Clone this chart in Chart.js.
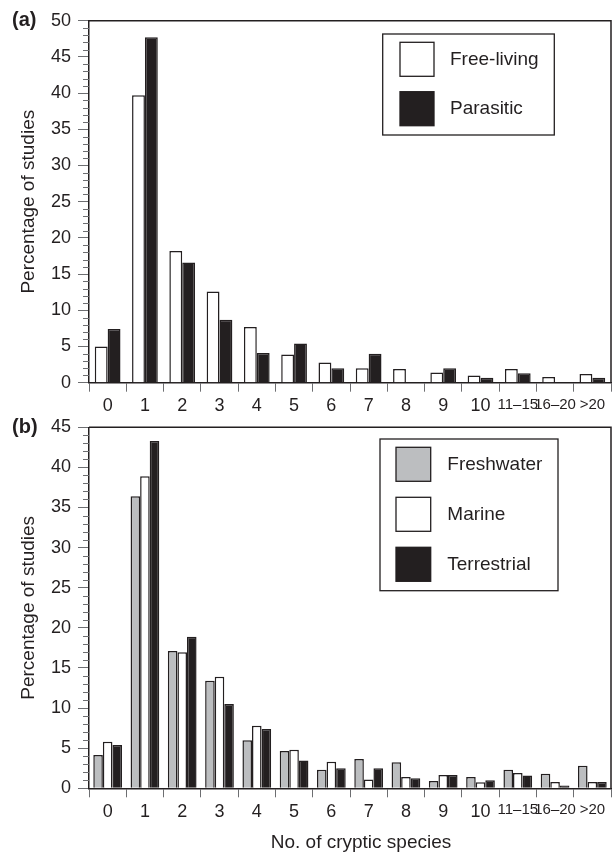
<!DOCTYPE html>
<html>
<head>
<meta charset="utf-8">
<script src="https://cdn.jsdelivr.net/npm/chart.js@4"></script>
<style>
  html, body { margin: 0; padding: 0; background: #fff; }
  #wrap { position: relative; width: 616px; height: 857px; overflow: hidden; }
  canvas { position: absolute; left: 0; }
  #chartA { top: 0; }
  #chartB { top: 400px; }
</style>
</head>
<body>
<div id="wrap">
  <canvas id="chartA" width="616" height="425"></canvas>
  <canvas id="chartB" width="616" height="457"></canvas>
</div>
<script>
// Categories (number of cryptic species)
const categories = ['0', '1', '2', '3', '4', '5', '6', '7', '8', '9', '10', '11–15', '16–20', '>20'];

// Panel (a): life style
const freeLiving = [5.0, 39.7, 18.2, 12.6, 7.7, 3.9, 2.8, 2.0, 1.9, 1.4, 1.0, 1.9, 0.8, 1.2];
const parasitic = [7.4, 47.7, 16.6, 8.7, 4.1, 5.4, 2.0, 4.0, 0, 2.0, 0.7, 1.3, 0, 0.7];

// Panel (b): habitat
const freshwater = [4.15, 36.4, 17.1, 13.4, 6.0, 4.65, 2.3, 3.65, 3.25, 0.9, 1.4, 2.3, 1.8, 2.8];
const marine = [5.8, 38.9, 16.95, 13.9, 7.8, 4.8, 3.3, 1.1, 1.4, 1.65, 0.75, 1.9, 0.8, 0.8];
const terrestrial = [5.4, 43.3, 18.9, 10.5, 7.4, 3.45, 2.5, 2.5, 1.25, 1.65, 1.0, 1.6, 0.35, 0.8];

const INK = '#231f20';
const GREY = '#bcbec0';
const TICK = '#6d6e71';
const FONT = "'Liberation Sans', Arial, Helvetica, sans-serif";

// Draws the frame, minor y ticks, panel letter, boxed legend and x title
const panelDecor = {
    id: 'panelDecor',
    beforeDatasetsDraw(chart, args, opts) {
        const { ctx, chartArea: a } = chart;
        const y = chart.scales.y;
        ctx.save();
        ctx.strokeStyle = TICK;
        ctx.lineWidth = 1;
        ctx.beginPath();
        for (let v = y.min; v <= y.max; v++) {
            if (v % 5 === 0) continue;
            const py = Math.round(y.getPixelForValue(v)) + 0.5;
            ctx.moveTo(a.left - 6, py);
            ctx.lineTo(a.left, py);
        }
        ctx.stroke();
        ctx.strokeStyle = INK;
        ctx.lineWidth = 1.5;
        ctx.beginPath();
        ctx.moveTo(a.left, a.top);
        ctx.lineTo(a.right, a.top);
        ctx.lineTo(a.right, a.bottom);
        ctx.stroke();
        ctx.restore();
    },
    afterDraw(chart, args, opts) {
        const { ctx, chartArea: a } = chart;
        ctx.save();
        ctx.fillStyle = INK;
        ctx.textBaseline = 'middle';
        ctx.font = `bold 20px ${FONT}`;
        ctx.fillText(opts.label, 12, a.top);

        // legend box
        const L = opts.legend;
        ctx.lineWidth = 1.3;
        ctx.strokeStyle = INK;
        ctx.strokeRect(L.x, L.y, L.w, L.h);
        ctx.font = `19px ${FONT}`;
        chart.data.datasets.forEach((ds, i) => {
            const sy = L.y + L.pad + i * L.step;
            ctx.fillStyle = ds.backgroundColor;
            ctx.fillRect(L.x + L.sx, sy, L.sw, 34);
            ctx.strokeRect(L.x + L.sx, sy, L.sw, 34);
            ctx.fillStyle = INK;
            ctx.fillText(ds.label, L.x + L.tx, sy + 17);
        });

        if (opts.xTitle) {
            ctx.textAlign = 'center';
            ctx.fillText(opts.xTitle, opts.xTitleX, opts.xTitleY);
        }
        ctx.restore();
    }
};

function makeChart(id, datasets, yMax, catPct, padTop, xHeight, decor) {
    return new Chart(document.getElementById(id), {
        type: 'bar',
        data: {
            labels: categories,
            datasets: datasets.map(d => ({
                label: d.label,
                data: d.data,
                backgroundColor: d.color,
                borderColor: INK,
                borderWidth: 1.5,
                categoryPercentage: catPct,
                barPercentage: 1.0
            }))
        },
        options: {
            responsive: false,
            animation: false,
            layout: { padding: { top: padTop, right: 5, left: 0, bottom: 0 } },
            plugins: {
                legend: { display: false },
                tooltip: { enabled: false },
                panelDecor: decor
            },
            scales: {
                x: {
                    ticks: {
                        color: INK,
                        font: (c) => ({ family: FONT, size: c.index > 10 ? 15 : 18 }),
                        padding: 4,
                        maxRotation: 0,
                        minRotation: 0,
                        autoSkip: false
                    },
                    grid: { offset: true, drawOnChartArea: false, tickLength: 9, tickColor: TICK },
                    border: { display: true, color: INK, width: 1.5 },
                    afterFit: (s) => { s.height = xHeight; }
                },
                y: {
                    min: 0,
                    max: yMax,
                    ticks: { stepSize: 5, color: INK, font: { family: FONT, size: 18 }, padding: 7 },
                    grid: { drawOnChartArea: false, tickLength: 11, tickColor: TICK },
                    border: { display: true, color: INK, width: 1.5 },
                    title: {
                        display: true,
                        text: 'Percentage of studies',
                        color: INK,
                        font: { family: FONT, size: 19 },
                        padding: { top: 17, bottom: 0 }
                    },
                    afterFit: (s) => { s.width = 89; }
                }
            }
        },
        plugins: [panelDecor]
    });
}

makeChart('chartA', [
    { label: 'Free-living', data: freeLiving, color: '#ffffff' },
    { label: 'Parasitic', data: parasitic, color: INK }
], 50, 0.69, 20.7, 42.3, {
    label: '(a)',
    legend: { x: 382.7, y: 34, w: 171.6, h: 101, pad: 8.3, step: 49.4, sx: 17.3, sw: 34, tx: 67.3 }
});

makeChart('chartB', [
    { label: 'Freshwater', data: freshwater, color: GREY },
    { label: 'Marine', data: marine, color: '#ffffff' },
    { label: 'Terrestrial', data: terrestrial, color: INK }
], 45, 0.77, 27.3, 68.7, {
    label: '(b)',
    legend: { x: 380, y: 39, w: 178, h: 151.7, pad: 8.3, step: 50, sx: 16, sw: 34.7, tx: 67.3 },
    xTitle: 'No. of cryptic species',
    xTitleX: 361,
    xTitleY: 443
});
</script>
</body>
</html>
